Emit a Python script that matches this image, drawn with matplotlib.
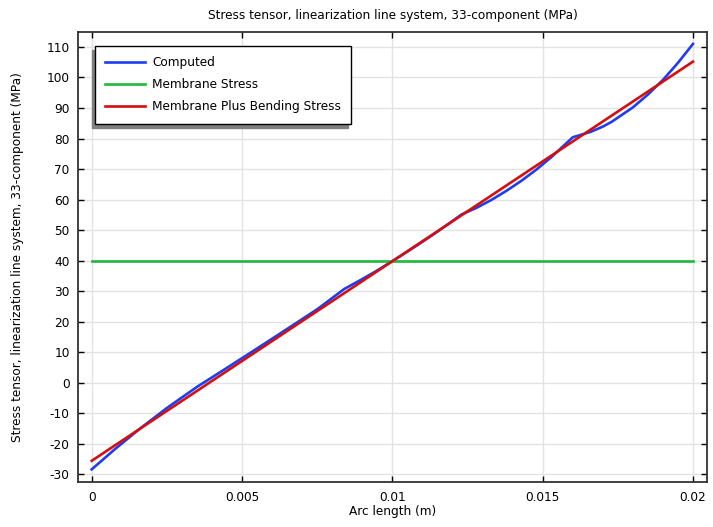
import matplotlib
matplotlib.use("Agg")
import matplotlib.pyplot as plt

plt.rcParams["font.family"] = "DejaVu Sans"
plt.rcParams["axes.unicode_minus"] = False

# arc length (m) and stress values (MPa)
arc_computed = [0.0, 0.0008, 0.0016, 0.0025, 0.0035, 0.0046, 0.0055, 0.0065,
                0.0075, 0.0084, 0.0089, 0.0094, 0.0100, 0.0104, 0.0109, 0.0114,
                0.0119, 0.0123, 0.0128, 0.0133, 0.0138, 0.0143, 0.0148, 0.0153,
                0.0160, 0.0166, 0.0170, 0.0173, 0.0180, 0.0185, 0.0190, 0.0195,
                0.0200]
stress_computed = [-28.4, -21.55, -15.1, -8.3, -1.4, 5.5, 11.2, 17.6,
                   24.05, 30.7, 33.4, 36.2, 39.8, 42.3, 45.5, 48.8,
                   52.25, 55.1, 57.3, 59.9, 62.9, 66.2, 69.9, 74.0,
                   80.4, 82.2, 83.9, 85.5, 90.2, 94.4, 99.2, 104.8,
                   111.0]

arc_ends = [0.0, 0.02]
membrane = [39.8, 39.8]
membrane_bending = [-25.6, 105.2]

x_ticks = [0, 0.005, 0.01, 0.015, 0.02]
x_tick_labels = ["0", "0.005", "0.01", "0.015", "0.02"]
y_ticks = list(range(-30, 111, 10))

FS = 8.7

fig = plt.figure(figsize=(7.13, 5.27), dpi=100)
ax = fig.add_axes([0.1094, 0.0845, 0.8822, 0.8548])

ax.plot(arc_computed, stress_computed, color="#1f3cf5", lw=1.9, label="Computed", zorder=3)
ax.plot(arc_ends, membrane, color="#1fb83a", lw=1.9, label="Membrane Stress", zorder=3)
ax.plot(arc_ends, membrane_bending, color="#d40f0f", lw=1.9,
        label="Membrane Plus Bending Stress", zorder=4)

ax.set_xlim(-0.000456, 0.020466)
ax.set_ylim(-32.7, 114.9)
ax.set_xticks(x_ticks)
ax.set_xticklabels(x_tick_labels)
ax.set_yticks(y_ticks)
ax.grid(True, color="#e3e3e3", lw=1)
ax.set_axisbelow(True)
ax.tick_params(direction="in", top=True, right=True, length=4, width=1,
               labelsize=FS, color="black", pad=6)
for s in ax.spines.values():
    s.set_linewidth(1.3)
    s.set_color("#333333")

ax.set_title("Stress tensor, linearization line system, 33-component (MPa)",
             fontsize=FS, pad=9)
ax.set_xlabel("Arc length (m)", fontsize=FS, labelpad=1)
ax.set_ylabel("Stress tensor, linearization line system, 33-component (MPa)",
              fontsize=FS, labelpad=16)

leg = ax.legend(loc="upper left", bbox_to_anchor=(0.027, 0.969), borderaxespad=0,
                fontsize=FS, fancybox=False, framealpha=1, edgecolor="black",
                handlelength=3.3, handletextpad=0.58, borderpad=0.85,
                labelspacing=0.75,
                shadow={"ox": -2.2, "oy": -3, "color": "#808080", "alpha": 1})
leg.get_frame().set_linewidth(1)

fig.savefig("out.png", dpi=100, facecolor="white")
